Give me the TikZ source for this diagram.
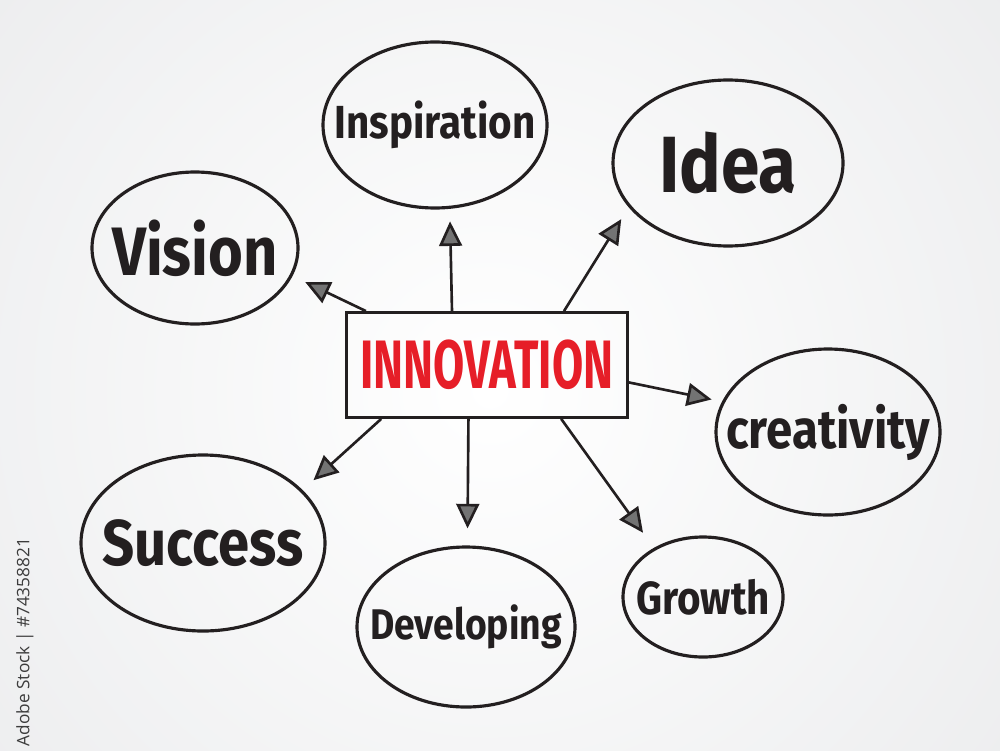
\documentclass[tikz,border=0pt]{standalone}
\usepackage{fontspec}
\newfontfamily\handfont[FakeStretch=0.87]{Fira Sans}
\newfontfamily\capsfont[FakeStretch=0.66]{Fira Sans}
\newfontfamily\markfont{Open Sans}
\usepackage{tikz}
\usetikzlibrary{shapes.geometric, arrows.meta, positioning}
\definecolor{bggray}{RGB}{228,229,231}
\definecolor{innored}{RGB}{230,30,40}
\definecolor{inkblack}{RGB}{35,31,32}
\definecolor{markgray}{RGB}{60,60,60}
\newcommand\handsize[1]{\handfont\bfseries\fontsize{#1}{#1}\selectfont}

\begin{document}
\begin{tikzpicture}[on grid]
\tikzstyle{bubble} = [ellipse, draw=inkblack, line width=0.9pt, inner sep=0pt, label distance=0pt]
\tikzstyle{core} = [rectangle, draw=inkblack, line width=0.8pt, minimum width=2.81cm, minimum height=1.05cm, text centered, text=innored, font={\capsfont\bfseries\fontsize{19.5}{22}\selectfont}]
\tikzstyle{arrow} = [line width=0.75pt, draw=inkblack, ->, >={Triangle[length=7pt,width=6.5pt,fill=black!55]}]

\useasboundingbox (0,0) rectangle (10,7.5);
\begin{scope}
\clip (0,0) rectangle (10,7.5);
\fill [bggray] (0,0) rectangle (10,7.5);
\shade [inner color=white, outer color=bggray] (4.9,3.6) circle (9.5cm);
\end{scope}

\node (inno) [core] at (4.87,3.85) {INNOVATION};
\node (insp) [bubble, minimum width=2.24cm, minimum height=1.66cm, above left=2.40cm and 0.52cm of inno, label={[font=\handsize{13.2}, text=inkblack]center:Inspiration}] {};
\node (idea) [bubble, minimum width=2.30cm, minimum height=1.66cm, above right=2.02cm and 2.41cm of inno, label={[font=\handsize{22.7}, text=inkblack]center:Idea}] {};
\node (vis) [bubble, minimum width=2.06cm, minimum height=1.52cm, above left=1.17cm and 2.92cm of inno, label={[font=\handsize{19.5}, text=inkblack]center:Vision}] {};
\node (crea) [bubble, minimum width=2.24cm, minimum height=1.66cm, below right=0.67cm and 3.41cm of inno, label={[font=\handsize{15.5}, text=inkblack]center:creativity}] {};
\node (succ) [bubble, minimum width=2.44cm, minimum height=1.76cm, below left=1.78cm and 2.84cm of inno, label={[font=\handsize{18.4}, text=inkblack]center:Success}] {};
\node (dev) [bubble, minimum width=2.18cm, minimum height=1.60cm, below left=2.62cm and 0.21cm of inno, label={[font=\handsize{12.2}, text=inkblack]center:Developing}] {};
\node (grow) [bubble, minimum width=1.60cm, minimum height=1.20cm, below right=2.32cm and 2.16cm of inno, label={[font=\handsize{13.2}, text=inkblack]center:Growth}] {};
\node (stock) [rotate=90, text=markgray, font=\markfont\fontsize{4.9}{6}\selectfont, inner sep=0pt] at (0.25,1.08) {Adobe Stock | \#74358821};

\draw [arrow, shorten >=0.14cm] (inno.156) -- (vis.-16.5);
\draw [arrow, shorten >=0.125cm] (inno.123.4) -- (insp.-80.6);
\draw [arrow, shorten >=0.14cm] (inno.35) -- (idea.-156.4);
\draw [arrow, shorten >=0.106cm] (inno.-7.3) -- (crea.164);
\draw [arrow, shorten >=0.186cm] (inno.-36) -- (grow.135);
\draw [arrow, shorten >=0.17cm] (inno.-109) -- (dev.89.4);
\draw [arrow, shorten >=0.146cm] (inno.-153) -- (succ.28);

\end{tikzpicture}
\end{document}
